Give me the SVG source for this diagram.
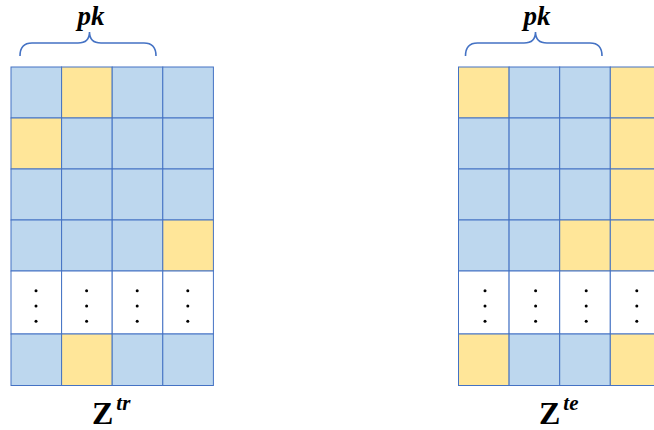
<svg xmlns="http://www.w3.org/2000/svg" width="654" height="430" viewBox="0 0 654 430">
<style>
.b{fill:#BDD7EE;stroke:#4472C4;stroke-width:1}
.y{fill:#FFE699;stroke:#4472C4;stroke-width:1}
.w{fill:#FFFFFF;stroke:#4472C4;stroke-width:1}
.br{fill:none;stroke:#4472C4;stroke-width:1.6}
.d{fill:#000}
.pk{font-family:"Liberation Serif",serif;font-style:italic;font-weight:bold;font-size:27px;fill:#000}
.z{font-family:"Liberation Serif",serif;font-weight:bold;font-size:32px;fill:#000}
.s{font-family:"Liberation Serif",serif;font-style:italic;font-weight:bold;font-size:21px;fill:#000}
</style>
<defs>
<g id="dots">
<circle class="d" cx="0" cy="0" r="1.5"/>
<circle class="d" cx="0" cy="15.3" r="1.5"/>
<circle class="d" cx="0" cy="30.6" r="1.5"/>
</g>
</defs>
<g id="grid-train">
<rect class="b" x="11" y="67" width="50.6" height="51"/>
<rect class="y" x="61.6" y="67" width="50.6" height="51"/>
<rect class="b" x="112.2" y="67" width="50.6" height="51"/>
<rect class="b" x="162.8" y="67" width="50.6" height="51"/>
<rect class="y" x="11" y="118" width="50.6" height="51"/>
<rect class="b" x="61.6" y="118" width="50.6" height="51"/>
<rect class="b" x="112.2" y="118" width="50.6" height="51"/>
<rect class="b" x="162.8" y="118" width="50.6" height="51"/>
<rect class="b" x="11" y="169" width="50.6" height="51"/>
<rect class="b" x="61.6" y="169" width="50.6" height="51"/>
<rect class="b" x="112.2" y="169" width="50.6" height="51"/>
<rect class="b" x="162.8" y="169" width="50.6" height="51"/>
<rect class="b" x="11" y="220" width="50.6" height="51"/>
<rect class="b" x="61.6" y="220" width="50.6" height="51"/>
<rect class="b" x="112.2" y="220" width="50.6" height="51"/>
<rect class="y" x="162.8" y="220" width="50.6" height="51"/>
<rect class="w" x="11" y="271" width="50.6" height="63"/>
<rect class="w" x="61.6" y="271" width="50.6" height="63"/>
<rect class="w" x="112.2" y="271" width="50.6" height="63"/>
<rect class="w" x="162.8" y="271" width="50.6" height="63"/>
<use href="#dots" x="36" y="290.7"/>
<use href="#dots" x="86.6" y="290.7"/>
<use href="#dots" x="137.2" y="290.7"/>
<use href="#dots" x="187.8" y="290.7"/>
<rect class="b" x="11" y="334" width="50.6" height="51.5"/>
<rect class="y" x="61.6" y="334" width="50.6" height="51.5"/>
<rect class="b" x="112.2" y="334" width="50.6" height="51.5"/>
<rect class="b" x="162.8" y="334" width="50.6" height="51.5"/>
</g>
<g id="grid-test">
<rect class="y" x="458.5" y="67" width="50.6" height="51"/>
<rect class="b" x="509.1" y="67" width="50.6" height="51"/>
<rect class="b" x="559.7" y="67" width="50.6" height="51"/>
<rect class="y" x="610.3" y="67" width="50.6" height="51"/>
<rect class="b" x="458.5" y="118" width="50.6" height="51"/>
<rect class="b" x="509.1" y="118" width="50.6" height="51"/>
<rect class="b" x="559.7" y="118" width="50.6" height="51"/>
<rect class="y" x="610.3" y="118" width="50.6" height="51"/>
<rect class="b" x="458.5" y="169" width="50.6" height="51"/>
<rect class="b" x="509.1" y="169" width="50.6" height="51"/>
<rect class="b" x="559.7" y="169" width="50.6" height="51"/>
<rect class="y" x="610.3" y="169" width="50.6" height="51"/>
<rect class="b" x="458.5" y="220" width="50.6" height="51"/>
<rect class="b" x="509.1" y="220" width="50.6" height="51"/>
<rect class="y" x="559.7" y="220" width="50.6" height="51"/>
<rect class="y" x="610.3" y="220" width="50.6" height="51"/>
<rect class="w" x="458.5" y="271" width="50.6" height="63"/>
<rect class="w" x="509.1" y="271" width="50.6" height="63"/>
<rect class="w" x="559.7" y="271" width="50.6" height="63"/>
<rect class="w" x="610.3" y="271" width="50.6" height="63"/>
<use href="#dots" x="485" y="290.7"/>
<use href="#dots" x="535.6" y="290.7"/>
<use href="#dots" x="586.2" y="290.7"/>
<use href="#dots" x="636.8" y="290.7"/>
<rect class="y" x="458.5" y="334" width="50.6" height="51.5"/>
<rect class="b" x="509.1" y="334" width="50.6" height="51.5"/>
<rect class="b" x="559.7" y="334" width="50.6" height="51.5"/>
<rect class="y" x="610.3" y="334" width="50.6" height="51.5"/>
</g>
<g id="brace-train">
<path class="br" d="M20,56 Q20,43 32,43 L78,43 Q89.5,43 89.5,32 Q89.5,43 101,43 L144,43 Q156,43 156,56"/>
<text class="pk" x="91" y="25" text-anchor="middle">pk</text>
</g>
<g id="brace-test">
<path class="br" d="M465.5,56 Q465.5,43 477.5,43 L524,43 Q535.5,43 535.5,32 Q535.5,43 547,43 L590,43 Q602,43 602,56"/>
<text class="pk" x="537" y="25" text-anchor="middle">pk</text>
</g>
<g id="label-train">
<text x="92" y="424"><tspan class="z">Z</tspan><tspan class="s" dx="3" dy="-14">tr</tspan></text>
</g>
<g id="label-test">
<text x="539" y="424"><tspan class="z">Z</tspan><tspan class="s" dx="3" dy="-14">te</tspan></text>
</g>
</svg>
